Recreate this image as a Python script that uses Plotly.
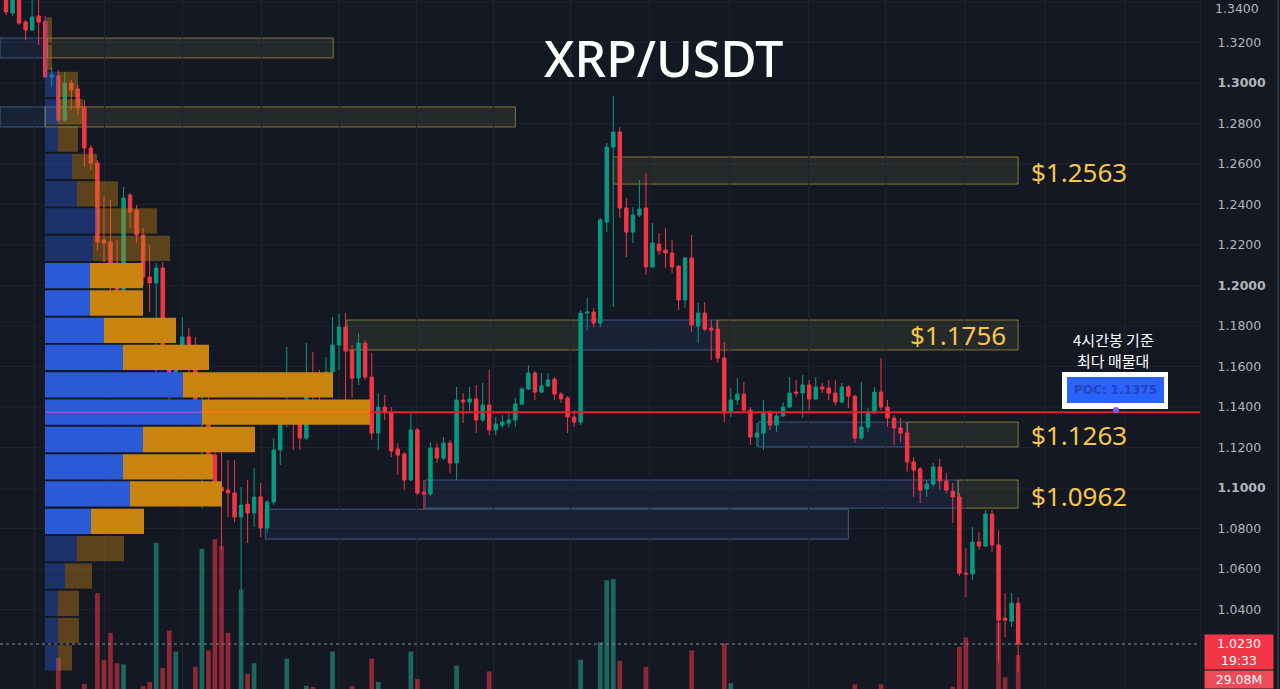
import plotly.graph_objects as go

# ---------------- data ----------------
candle_idx = list(range(156))

open_ = [1.3425,1.3346,1.3415,1.3301,1.3262,1.3331,1.3306,1.3030,1.3035,1.2817,
         1.3000,1.2971,1.2882,1.2679,1.2605,1.2225,1.2215,1.2111,1.1978,1.2447,
         1.2373,1.2250,1.2042,1.2013,1.2087,1.1672,1.1548,1.1682,1.1746,1.1682,
         1.1346,1.1351,1.1163,1.1005,1.0990,1.0976,1.0857,1.0921,1.0877,1.0956,
         1.0803,1.0931,1.1188,1.1371,1.1395,1.1336,1.1247,1.1548,1.1519,1.1474,
         1.1573,1.1706,1.1795,1.1682,1.1543,1.1716,1.1548,1.1272,1.1400,1.1375,
         1.1193,1.1168,1.1040,1.1287,1.0980,1.0971,1.1198,1.1148,1.1222,1.1124,
         1.1435,1.1425,1.1440,1.1336,1.1410,1.1287,1.1311,1.1321,1.1336,1.1415,
         1.1489,1.1568,1.1474,1.1504,1.1538,1.1464,1.1445,1.1351,1.1326,1.1864,
         1.1869,1.1815,1.2314,1.2684,1.2758,1.2383,1.2264,1.2348,1.2383,1.2092,
         1.2205,1.2176,1.2161,1.2096,1.1929,1.2136,1.1800,1.1864,1.1790,1.1785,
         1.1642,1.1375,1.1435,1.1464,1.1385,1.1252,1.1272,1.1371,1.1311,1.1356,
         1.1400,1.1474,1.1469,1.1509,1.1440,1.1499,1.1494,1.1469,1.1425,1.1499,
         1.1454,1.1247,1.1301,1.1371,1.1474,1.1400,1.1346,1.1297,1.1272,1.1129,
         1.1094,1.0995,1.1020,1.1104,1.1035,1.0985,1.0956,1.0580,1.0576,1.0734,
         1.0714,1.0872,1.0719,1.0358,1.0343,1.0432]

close_ = [1.3351,1.3420,1.3296,1.3262,1.3326,1.3301,1.3030,1.3040,1.2817,1.3000,
          1.2966,1.2877,1.2679,1.2605,1.2215,1.2210,1.2111,1.1978,1.2432,1.2363,
          1.2250,1.2042,1.2013,1.2087,1.1682,1.1558,1.1692,1.1746,1.1692,1.1336,
          1.1361,1.1138,1.1005,1.0985,1.0976,1.0857,1.0916,1.0877,1.0956,1.0803,
          1.0931,1.1188,1.1371,1.1400,1.1336,1.1247,1.1558,1.1519,1.1474,1.1573,
          1.1706,1.1795,1.1677,1.1543,1.1716,1.1548,1.1272,1.1400,1.1375,1.1183,
          1.1163,1.1040,1.1287,1.0976,1.0971,1.1198,1.1148,1.1222,1.1124,1.1435,
          1.1425,1.1440,1.1336,1.1410,1.1287,1.1316,1.1326,1.1336,1.1415,1.1489,
          1.1568,1.1474,1.1504,1.1534,1.1464,1.1440,1.1351,1.1326,1.1864,1.1869,
          1.1815,1.2324,1.2684,1.2758,1.2383,1.2264,1.2348,1.2378,1.2092,1.2210,
          1.2171,1.2161,1.2092,1.1929,1.2136,1.1805,1.1864,1.1785,1.1780,1.1642,
          1.1371,1.1435,1.1464,1.1385,1.1252,1.1272,1.1371,1.1311,1.1356,1.1400,
          1.1469,1.1469,1.1509,1.1440,1.1499,1.1489,1.1469,1.1425,1.1499,1.1454,
          1.1247,1.1301,1.1371,1.1474,1.1400,1.1346,1.1297,1.1272,1.1129,1.1089,
          1.0990,1.1020,1.1104,1.1035,1.0990,1.0956,1.0580,1.0576,1.0734,1.0714,
          1.0872,1.0719,1.0348,1.0348,1.0432,1.0230]

high_ = [1.3450,1.3459,1.3435,1.3311,1.3420,1.3410,1.3331,1.3079,1.3064,1.3054,
         1.3015,1.2990,1.2916,1.2694,1.2620,1.2437,1.2422,1.2225,1.2487,1.2457,
         1.2398,1.2284,1.2200,1.2111,1.2116,1.1682,1.1706,1.1845,1.1790,1.1746,
         1.1499,1.1450,1.1213,1.1188,1.1138,1.1138,1.1005,1.1040,1.1099,1.1025,
         1.0941,1.1247,1.1400,1.1696,1.1435,1.1400,1.1716,1.1672,1.1583,1.1647,
         1.1845,1.1864,1.1864,1.1706,1.1766,1.1731,1.1667,1.1469,1.1459,1.1400,
         1.1222,1.1178,1.1371,1.1297,1.1040,1.1227,1.1222,1.1252,1.1237,1.1499,
         1.1469,1.1499,1.1509,1.1519,1.1583,1.1351,1.1361,1.1375,1.1445,1.1499,
         1.1607,1.1578,1.1568,1.1568,1.1548,1.1474,1.1454,1.1385,1.1879,1.1939,
         1.1889,1.2334,1.2704,1.2936,1.2783,1.2432,1.2388,1.2521,1.2556,1.2309,
         1.2259,1.2284,1.2225,1.2101,1.2141,1.2250,1.1914,1.1919,1.1830,1.1830,
         1.1721,1.1494,1.1543,1.1524,1.1400,1.1321,1.1435,1.1385,1.1371,1.1425,
         1.1548,1.1534,1.1558,1.1534,1.1548,1.1519,1.1534,1.1534,1.1519,1.1509,
         1.1459,1.1524,1.1395,1.1499,1.1642,1.1435,1.1361,1.1346,1.1287,1.1153,
         1.1104,1.1040,1.1124,1.1143,1.1074,1.1025,1.0976,1.0704,1.0808,1.0783,
         1.0892,1.0892,1.0793,1.0482,1.0482,1.0462]

low_ = [1.3336,1.3331,1.3287,1.3212,1.3257,1.3188,1.3025,1.2980,1.2808,1.2808,
        1.2867,1.2842,1.2585,1.2571,1.2171,1.2116,1.1978,1.1914,1.1968,1.2284,
        1.2210,1.2003,1.1869,1.1459,1.1667,1.1425,1.1534,1.1632,1.1568,1.1311,
        1.0901,1.1089,1.0966,1.0694,1.0857,1.0832,1.0497,1.0729,1.0808,1.0758,
        1.0778,1.0916,1.1114,1.1301,1.1188,1.1188,1.1237,1.1371,1.1371,1.1459,
        1.1563,1.1583,1.1435,1.1445,1.1509,1.1534,1.1237,1.1188,1.1336,1.1153,
        1.1065,1.0990,1.1035,1.0966,1.0892,1.0961,1.1124,1.1138,1.1074,1.1040,
        1.1321,1.1371,1.1272,1.1326,1.1262,1.1262,1.1297,1.1301,1.1301,1.1410,
        1.1484,1.1435,1.1469,1.1499,1.1435,1.1420,1.1272,1.1301,1.1311,1.1780,
        1.1795,1.1795,1.2264,1.1894,1.2334,1.2141,1.2210,1.2338,1.2052,1.2087,
        1.2151,1.2087,1.2062,1.1879,1.1889,1.1771,1.1716,1.1775,1.1632,1.1617,
        1.1326,1.1351,1.1410,1.1375,1.1213,1.1203,1.1188,1.1287,1.1277,1.1351,
        1.1395,1.1450,1.1346,1.1385,1.1435,1.1469,1.1435,1.1410,1.1420,1.1395,
        1.1222,1.1237,1.1277,1.1366,1.1385,1.1301,1.1213,1.1227,1.1079,1.0956,
        1.0926,1.0956,1.1005,1.0990,1.0976,1.0827,1.0566,1.0462,1.0546,1.0694,
        1.0709,1.0684,1.0136,1.0264,1.0314,1.0092]

# visible part of the volume bars (millions)
volume_m = [0, 0, 0, 0, 0, 0, 0, 0, 26.5, 0,
            0, 0, 4.3, 0, 82, 25, 48, 22, 21, 0,
            0, 2.6, 6, 125, 18, 50, 32, 0, 0, 19,
            120, 33, 128, 122, 48, 0, 85, 13, 22, 0,
            0, 0, 0, 26, 0, 0, 2.6, 1.7, 0, 0,
            32, 0, 0, 2.6, 0, 0, 26, 6, 0, 0,
            0, 0, 32, 8.5, 0, 0, 0, 0, 0, 20,
            0, 0, 0, 0, 15, 0, 0, 0, 0, 0,
            0, 0, 0, 0, 0, 0, 0, 0, 25, 0,
            0, 40, 93, 94, 24, 0, 0, 0, 19, 0,
            0, 0, 0, 0, 0, 33, 0, 0, 0, 0,
            39, 5, 0, 0, 0, 0, 0, 0, 0, 0,
            0, 0, 0, 0, 0, 0, 0, 0, 0, 0,
            4, 0, 0, 0, 4, 0, 0, 0, 0, 0,
            0, 0, 0, 0, 0, 2, 36, 44, 0, 0,
            0, 0, 57, 10, 0, 29.08]

# volume profile rows (top to bottom)
profile_price = [1.3262, 1.3127, 1.2993, 1.2858, 1.2723, 1.2588, 1.2453, 1.2319,
                 1.2184, 1.2049, 1.1914, 1.1779, 1.1645, 1.1510, 1.1375, 1.1240,
                 1.1105, 1.0971, 1.0836, 1.0701, 1.0566, 1.0431, 1.0297, 1.0162]
profile_buy = [2, 2, 13, 13, 13, 27, 32, 52, 48, 45, 45, 59, 78, 138, 157, 98,
               78, 85, 46, 32, 20, 13, 13, 13]
profile_sell = [5, 5, 20, 25, 20, 25, 41, 60, 77, 53, 53, 72, 86, 150, 168, 112,
                90, 92, 53, 47, 27, 21, 21, 14]
profile_value_area = [False] * 9 + [True] * 10 + [False] * 5
poc_price = 1.1375
poc_row = 14

# supply / demand zones
zone_top = [1.3222, 1.3222, 1.2882, 1.2882, 1.2635, 1.1830, 1.1830, 1.1830,
            1.1326, 1.1326, 1.1040, 1.1040, 1.0896]
zone_bottom = [1.3124, 1.3124, 1.2783, 1.2783, 1.2501, 1.1682, 1.1682, 1.1682,
               1.1203, 1.1203, 1.0901, 1.0901, 1.0748]
zone_start = [-0.92, 6.3, -0.92, 6.0, 93.0, 52.2, 87.9, 108.9, 115.2, 138.0,
              64.2, 145.8, 39.7]
zone_end = [6.3, 50.1, 6.0, 78.0, 155.0, 87.9, 108.9, 155.0, 138.0, 155.0,
            145.8, 155.0, 129.0]
zone_kind = ["blue", "yellow", "blue", "yellow", "yellow", "yellow", "blue",
             "yellow", "blue", "yellow", "blue", "yellow", "blue"]

level_values = [1.2563, 1.1756, 1.1263, 1.0962]
level_labels = ["$1.2563", "$1.1756", "$1.1263", "$1.0962"]
level_inside = [False, True, False, False]

price_ticks = [1.04, 1.06, 1.08, 1.10, 1.12, 1.14, 1.16, 1.18, 1.20, 1.22,
               1.24, 1.26, 1.28, 1.30, 1.32, 1.34]
price_tick_labels = ["1.0400", "1.0600", "1.0800", "<b>1.1000</b>", "1.1200",
                     "1.1400", "1.1600", "1.1800", "<b>1.2000</b>", "1.2200",
                     "1.2400", "1.2600", "1.2800", "<b>1.3000</b>", "1.3200",
                     "1.3400"]
time_grid = [4.44, 15.16, 27.1, 39.05, 51.0, 62.79, 74.73, 86.52, 98.62,
             110.87, 122.82, 134.76, 146.86, 159.11, 171.36]

last_price_text = "1.0230<br>19:33"
last_volume_text = "29.08M"

# ---------------- style ----------------
BG = "#141823"
GRID = "#1f2330"
UP = "#089981"
DOWN = "#f23645"
UP_VOL = "rgba(34,171,148,0.55)"
DOWN_VOL = "rgba(242,54,69,0.55)"
BLUE = "#2b5ad6"
ORANGE = "#c8840f"
BLUE_DIM = "rgba(43,90,214,0.40)"
ORANGE_DIM = "rgba(200,132,15,0.40)"
GOLD = "#f5c84a"
TICK_FONT = dict(family="DejaVu Sans", size=12.5, color="#b2b5be")

fig = go.Figure()

# volume (base subplot)
fig.add_trace(go.Bar(
    x=candle_idx, y=volume_m, xaxis="x", yaxis="y", width=0.72,
    marker=dict(color=[UP_VOL if c >= o else DOWN_VOL for o, c in zip(open_, close_)],
                line=dict(width=0)),
    hoverinfo="skip", showlegend=False))

# volume profile (overlay)
fig.add_trace(go.Bar(
    y=profile_price, x=profile_buy, orientation="h", xaxis="x2", yaxis="y2",
    width=0.0125, marker=dict(color=[BLUE if v else BLUE_DIM for v in profile_value_area],
                              line=dict(width=0)),
    hoverinfo="skip", showlegend=False))
fig.add_trace(go.Bar(
    y=profile_price, x=profile_sell, base=profile_buy, orientation="h",
    xaxis="x2", yaxis="y2", width=0.0125,
    marker=dict(color=[ORANGE if v else ORANGE_DIM for v in profile_value_area],
                line=dict(width=0)),
    hoverinfo="skip", showlegend=False))

# candles (overlay)
fig.add_trace(go.Candlestick(
    x=candle_idx, open=open_, high=high_, low=low_, close=close_,
    xaxis="x", yaxis="y2", whiskerwidth=0,
    increasing=dict(line=dict(color=UP, width=1), fillcolor=UP),
    decreasing=dict(line=dict(color=DOWN, width=1), fillcolor=DOWN),
    hoverinfo="skip", showlegend=False))

shapes = []
# horizontal price grid
for p in price_ticks:
    shapes.append(dict(type="line", xref="paper", yref="y2", x0=0, x1=1, y0=p, y1=p,
                       line=dict(color=GRID, width=1), layer="below"))
# zones
for t, b, s, e, k in zip(zone_top, zone_bottom, zone_start, zone_end, zone_kind):
    if k == "yellow":
        fill, edge = "rgba(210,200,110,0.10)", "rgba(215,190,70,0.55)"
    else:
        fill, edge = "rgba(80,130,220,0.10)", "rgba(100,150,215,0.50)"
    shapes.append(dict(type="rect", xref="x", yref="y2", x0=s, x1=e, y0=b, y1=t,
                       fillcolor=fill, line=dict(color=edge, width=1), layer="below"))
# POC lines
poc_buy = profile_buy[poc_row]
poc_total = profile_buy[poc_row] + profile_sell[poc_row]
shapes.append(dict(type="line", xref="x2", yref="y2", x0=0, x1=poc_buy, y0=poc_price,
                   y1=poc_price, line=dict(color="#a04fd0", width=1.5)))
shapes.append(dict(type="line", xref="x2", yref="y2", x0=poc_buy, x1=poc_total,
                   y0=poc_price, y1=poc_price, line=dict(color="#f07a1a", width=2)))
shapes.append(dict(type="line", xref="x2", yref="y2", x0=poc_total, x1=1155,
                   y0=poc_price, y1=poc_price, line=dict(color="#e3202e", width=2)))
# last price dotted line
shapes.append(dict(type="line", xref="paper", yref="y2", x0=0, x1=1,
                   y0=close_[-1], y1=close_[-1],
                   line=dict(color="#8a8d96", width=1, dash="dot")))
# POC label box
shapes.append(dict(type="rect", xref="paper", yref="paper",
                   x0=1062 / 1200, x1=1168 / 1200, y0=1 - 409 / 689, y1=1 - 372 / 689,
                   fillcolor="#ffffff", line=dict(width=0)))
shapes.append(dict(type="rect", xref="paper", yref="paper",
                   x0=1067 / 1200, x1=1164 / 1200, y0=1 - 403 / 689, y1=1 - 377 / 689,
                   fillcolor="#2962ff", line=dict(width=0)))
shapes.append(dict(type="circle", xref="paper", yref="paper",
                   x0=1113 / 1200, x1=1119 / 1200, y0=1 - 413 / 689, y1=1 - 407 / 689,
                   fillcolor="#7a5af0", line=dict(width=0)))
# right border of the price scale
shapes.append(dict(type="line", xref="paper", yref="paper", x0=1278 / 1200, x1=1278 / 1200,
                   y0=0, y1=1, line=dict(color="#2e323d", width=2)))

annotations = []
annotations.append(dict(text="XRP/USDT", xref="paper", yref="paper", x=663 / 1200,
                        y=1 - 58 / 689, xanchor="center", yanchor="middle", showarrow=False,
                        font=dict(family="Noto Sans", size=50, color="#ffffff", weight=500)))
annotations.append(dict(text="4시간봉 기준", xref="paper", yref="paper",
                        x=1113 / 1200, y=1 - 339 / 689, xanchor="center", yanchor="middle",
                        showarrow=False, borderpad=0,
                        font=dict(family="Noto Sans CJK KR", size=15, color="#ffffff")))
annotations.append(dict(text="최다 매물대", xref="paper", yref="paper",
                        x=1113 / 1200, y=1 - 360 / 689, xanchor="center", yanchor="middle",
                        showarrow=False, borderpad=0,
                        font=dict(family="Noto Sans CJK KR", size=15, color="#ffffff")))
annotations.append(dict(text="<b>POC: 1.1375</b>", xref="paper", yref="paper",
                        x=1115 / 1200, y=1 - 390 / 689, xanchor="center", yanchor="middle",
                        showarrow=False,
                        font=dict(family="DejaVu Sans", size=12, color="#2444b8")))
for v, t, inside in zip(level_values, level_labels, level_inside):
    annotations.append(dict(text=t, xref="x", yref="y2",
                            x=153.5 if inside else 156.7, y=v,
                            xanchor="right" if inside else "left", yanchor="middle",
                            showarrow=False,
                            font=dict(family="Noto Sans", size=26, color=GOLD)))
# top tick label that sits on the chart edge (kept fully inside the page)
annotations.append(dict(text=price_tick_labels[-1], xref="paper", yref="paper",
                        x=1214 / 1200, y=1, xanchor="left", yanchor="top",
                        showarrow=False, borderpad=0, font=TICK_FONT))
annotations.append(dict(text=last_price_text, xref="paper", yref="y2", x=1239 / 1200,
                        y=close_[-1], xanchor="center", yanchor="top", yshift=10,
                        width=68, height=34, bgcolor="#f23645", borderpad=0, showarrow=False,
                        font=dict(family="DejaVu Sans", size=12.5, color="#ffffff")))
annotations.append(dict(text=last_volume_text, xref="paper", yref="y2", x=1239 / 1200,
                        y=close_[-1], xanchor="center", yanchor="top", yshift=-26,
                        width=68, height=17, bgcolor="#ee4a57", borderpad=0, showarrow=False,
                        font=dict(family="DejaVu Sans", size=12.5, color="#ffffff")))

fig.update_layout(
    width=1280, height=689,
    margin=dict(l=0, r=80, t=0, b=0),
    paper_bgcolor=BG, plot_bgcolor=BG,
    showlegend=False, hovermode=False, barmode="overlay", boxgap=0.25,
    xaxis=dict(range=[-0.919, 182.85], showgrid=True, gridcolor=GRID, gridwidth=1,
               tickvals=time_grid, showticklabels=False, ticks="", zeroline=False,
               showline=False, rangeslider=dict(visible=False), fixedrange=True),
    yaxis=dict(range=[0, 589], visible=False, showgrid=False, zeroline=False,
               fixedrange=True),
    yaxis2=dict(overlaying="y", anchor="x", side="right", range=[1.0008, 1.3410],
                tickvals=price_ticks[:-1], ticktext=price_tick_labels[:-1], showgrid=False,
                zeroline=False, ticks="", ticklabelstandoff=14,
                tickfont=TICK_FONT,
                showline=True, linecolor="#1c202b", fixedrange=True),
    xaxis2=dict(overlaying="x", anchor="y2", range=[-45, 1155], visible=False,
                fixedrange=True),
    shapes=shapes,
    annotations=annotations,
)

fig.write_html("out.html")
